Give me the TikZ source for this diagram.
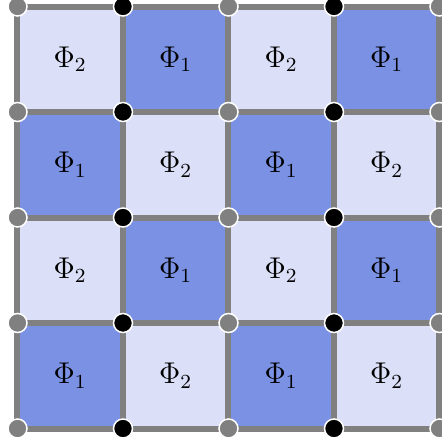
\documentclass[tikz,border=0pt]{standalone}
\usepackage{tikz}
\usetikzlibrary{positioning}
\definecolor{lightcell}{RGB}{219,223,247}
\definecolor{darkcell}{RGB}{122,145,228}
\definecolor{gridgray}{RGB}{128,128,128}

\begin{document}
\begin{tikzpicture}[
    x=0.4pt, y=-0.4pt,
    cell/.style={rectangle, minimum size=42.2pt, inner sep=0pt, font=\large},
    lightsq/.style={cell, fill=lightcell},
    darksq/.style={cell, fill=darkcell},
    gridline/.style={line width=2.4pt, gridgray},
    corner/.style={circle, draw=white, line width=0.6pt, minimum size=7.6pt, inner sep=0pt},
]
\useasboundingbox (0,0) rectangle (442,443);

% ── Cells ──
\node[lightsq] (c00) at (70.25,59.25)  {$\Phi_2$};
\node[darksq]  (c10) at (175.75,59.25) {$\Phi_1$};
\node[lightsq] (c20) at (281.25,59.25) {$\Phi_2$};
\node[darksq]  (c30) at (386.75,59.25) {$\Phi_1$};

\node[darksq]  (c01) at (70.25,164.75)  {$\Phi_1$};
\node[lightsq] (c11) at (175.75,164.75) {$\Phi_2$};
\node[darksq]  (c21) at (281.25,164.75) {$\Phi_1$};
\node[lightsq] (c31) at (386.75,164.75) {$\Phi_2$};

\node[lightsq] (c02) at (70.25,270.25)  {$\Phi_2$};
\node[darksq]  (c12) at (175.75,270.25) {$\Phi_1$};
\node[lightsq] (c22) at (281.25,270.25) {$\Phi_2$};
\node[darksq]  (c32) at (386.75,270.25) {$\Phi_1$};

\node[darksq]  (c03) at (70.25,375.75)  {$\Phi_1$};
\node[lightsq] (c13) at (175.75,375.75) {$\Phi_2$};
\node[darksq]  (c23) at (281.25,375.75) {$\Phi_1$};
\node[lightsq] (c33) at (386.75,375.75) {$\Phi_2$};

% ── Grid corners ──
\foreach \i in {0,...,4}
  \foreach \j in {0,...,4}
    \coordinate (p\i\j) at ({17.5+105.5*\i},{6.5+105.5*\j});

% ── Grid lines ──
\foreach \k in {0,...,4} {
  \draw[gridline] (p0\k) -- (p4\k);
  \draw[gridline] (p\k0) -- (p\k4);
}

% ── Corner dots (gray / black columns) ──
\foreach \i in {0,2,4}
  \foreach \j in {0,...,4}
    \node[corner, fill=gridgray] (g\i\j) at (p\i\j) {};
\foreach \i in {1,3}
  \foreach \j in {0,...,4}
    \node[corner, fill=black] (b\i\j) at (p\i\j) {};

\end{tikzpicture}
\end{document}
